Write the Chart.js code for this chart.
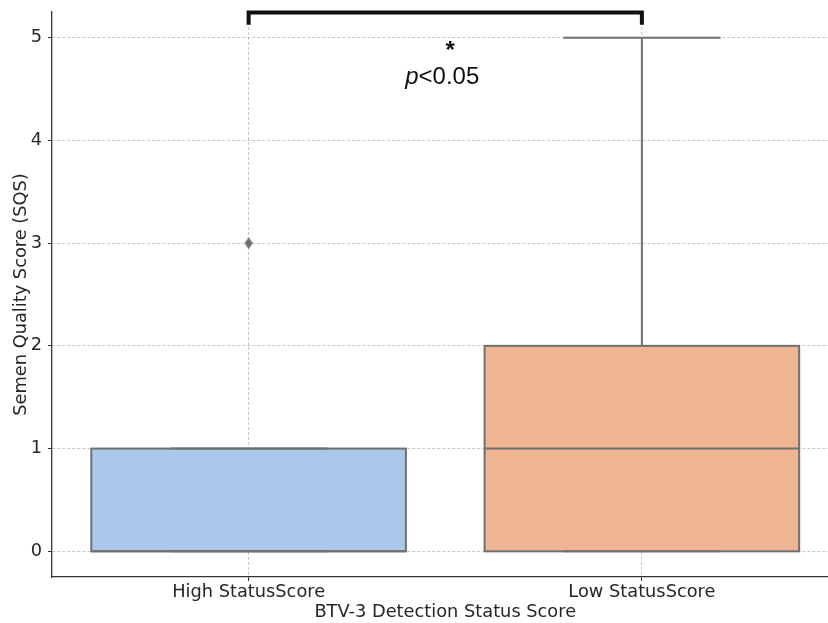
<!DOCTYPE html>
<html><head><meta charset="utf-8">
<script src="https://cdn.jsdelivr.net/npm/chart.js@4"></script>
<style>
html,body{margin:0;padding:0;background:#fff;overflow:hidden;width:828px;height:623px}
#wrap{position:absolute;left:0;top:0;width:850px;height:623px}
</style>
</head><body><div id="wrap"><canvas id="c"></canvas></div>
<script>
// ---- data ----
const categories = ['High StatusScore', 'Low StatusScore'];
const q1 = [0, 0];
const medians = [0, 1];
const q3 = [1, 2];
const whiskerLow = [0, 0];
const whiskerHigh = [1, 5];
const outlierValues = [[3], []];
const yTicks = [0, 1, 2, 3, 4, 5];
const yMin = -0.25, yMax = 5.25;
const xTitle = 'BTV-3 Detection Status Score';
const yTitle = 'Semen Quality Score (SQS)';
// significance annotation (data units)
const sigPair = [0, 1];
const sigBracketTop = 5.245;
const sigBracketLeg = 5.125;
const sigStarY = 4.87;
const sigTextY = 4.61;
const sigStar = '*';
const sigP = 'p';
const sigRest = '<0.05';

// ---- style ----
const boxColors = ['rgb(170,200,235)', 'rgb(239,181,146)'];
const EDGE = '#707070';
const TEXT = '#262626';
const FONT = 'DejaVu Sans';
const FS = 17.8;

const diamond = (() => {
  const cv = document.createElement('canvas');
  cv.width = 8; cv.height = 12;
  const g = cv.getContext('2d');
  g.fillStyle = '#6e6e6e';
  g.beginPath(); g.moveTo(4, 0); g.lineTo(8, 6); g.lineTo(4, 12); g.lineTo(0, 6); g.closePath(); g.fill();
  return cv;
})();

const outlierPoints = [];
outlierValues.forEach((arr, i) => arr.forEach(v => outlierPoints.push({x: categories[i], y: v})));

const boxPlugin = {
  id: 'boxExtras',
  afterDraw(chart) {
    const {ctx, scales: {x, y}} = chart;
    const meta = chart.getDatasetMeta(0);
    const line = (x1, y1, x2, y2) => { ctx.beginPath(); ctx.moveTo(x1, y1); ctx.lineTo(x2, y2); ctx.stroke(); };
    ctx.save();
    ctx.strokeStyle = EDGE; ctx.lineWidth = 2; ctx.lineCap = 'butt';
    categories.forEach((c, i) => {
      const bar = meta.data[i];
      const cx = x.getPixelForValue(i);
      const half = bar.width / 2, cap = half / 2;
      const yq1 = y.getPixelForValue(q1[i]), yq3 = y.getPixelForValue(q3[i]);
      const ylo = y.getPixelForValue(whiskerLow[i]), yhi = y.getPixelForValue(whiskerHigh[i]);
      if (yhi < yq3) line(cx, yq3, cx, yhi);
      if (ylo > yq1) line(cx, yq1, cx, ylo);
      line(cx - cap, yhi, cx + cap, yhi);
      line(cx - cap, ylo, cx + cap, ylo);
      ctx.strokeRect(cx - half, yq3, 2 * half, yq1 - yq3);
      const ym = y.getPixelForValue(medians[i]);
      line(cx - half, ym, cx + half, ym);
    });
    // significance bracket
    const xa = x.getPixelForValue(sigPair[0]), xb = x.getPixelForValue(sigPair[1]);
    const yt = y.getPixelForValue(sigBracketTop), yl = y.getPixelForValue(sigBracketLeg);
    ctx.strokeStyle = '#111'; ctx.lineWidth = 4; ctx.lineJoin = 'miter';
    ctx.beginPath(); ctx.moveTo(xa, yl); ctx.lineTo(xa, yt); ctx.lineTo(xb, yt); ctx.lineTo(xb, yl); ctx.stroke();
    const xm = (xa + xb) / 2;
    ctx.fillStyle = '#111';
    ctx.textAlign = 'center'; ctx.textBaseline = 'middle';
    ctx.font = 'bold 24px "Liberation Sans"';
    ctx.fillText(sigStar, xm + 5, y.getPixelForValue(sigStarY));
    ctx.font = 'italic 24px "Liberation Sans"';
    const wp = ctx.measureText(sigP).width;
    ctx.font = '24px "Liberation Sans"';
    const wr = ctx.measureText(sigRest).width;
    const x0 = xm - 3 - (wp + wr) / 2;
    const ty = y.getPixelForValue(sigTextY);
    ctx.textAlign = 'left';
    ctx.font = 'italic 24px "Liberation Sans"';
    ctx.fillText(sigP, x0, ty);
    ctx.font = '24px "Liberation Sans"';
    ctx.fillText(sigRest, x0 + wp, ty);
    ctx.restore();
  }
};

new Chart(document.getElementById('c'), {
  type: 'bar',
  data: {
    labels: categories,
    datasets: [
      {
        type: 'bar',
        data: categories.map((c, i) => [q1[i], q3[i]]),
        backgroundColor: boxColors,
        borderWidth: 0,
        borderSkipped: false,
        barPercentage: 0.8,
        categoryPercentage: 1.0
      },
      {
        type: 'line',
        data: outlierPoints,
        showLine: false,
        pointStyle: diamond,
        pointRadius: 5,
        pointHoverRadius: 5
      }
    ]
  },
  options: {
    responsive: true,
    maintainAspectRatio: false,
    animation: false,
    events: [],
    layout: {padding: {top: 12, right: 11.5, left: 0, bottom: 0}},
    plugins: {legend: {display: false}, tooltip: {enabled: false}},
    scales: {
      x: {
        z: 1,
        offset: true,
        afterFit: s => { s.height = 46; s.paddingLeft = 0; s.paddingRight = 0; },
        grid: {
          offset: false, color: 'rgba(0,0,0,0.22)', lineWidth: 1,
          tickLength: 4, tickColor: '#333', tickBorderDash: [], tickWidth: 1
        },
        border: {display: true, color: '#333', width: 1.3, dash: [3, 2]},
        ticks: {color: TEXT, font: {family: FONT, size: FS}, padding: 1, maxRotation: 0},
        title: {display: true, text: xTitle, color: TEXT, font: {family: FONT, size: FS}, padding: {top: 0, bottom: 0}}
      },
      y: {
        z: 1,
        min: yMin, max: yMax,
        afterFit: s => { s.width = 52; s.paddingTop = 0; s.paddingBottom = 0; },
        afterBuildTicks: s => { s.ticks = yTicks.map(v => ({value: v})); },
        grid: {
          color: 'rgba(0,0,0,0.22)', lineWidth: 1,
          tickLength: 4, tickColor: '#333', tickBorderDash: [], tickWidth: 1
        },
        border: {display: true, color: '#333', width: 1.3, dash: [3, 2]},
        ticks: {color: TEXT, font: {family: FONT, size: FS}, padding: 6},
        title: {display: true, text: yTitle, color: TEXT, font: {family: FONT, size: FS}, padding: {top: 10.5, bottom: 0}}
      }
    }
  },
  plugins: [boxPlugin]
});
</script>
</body></html>
